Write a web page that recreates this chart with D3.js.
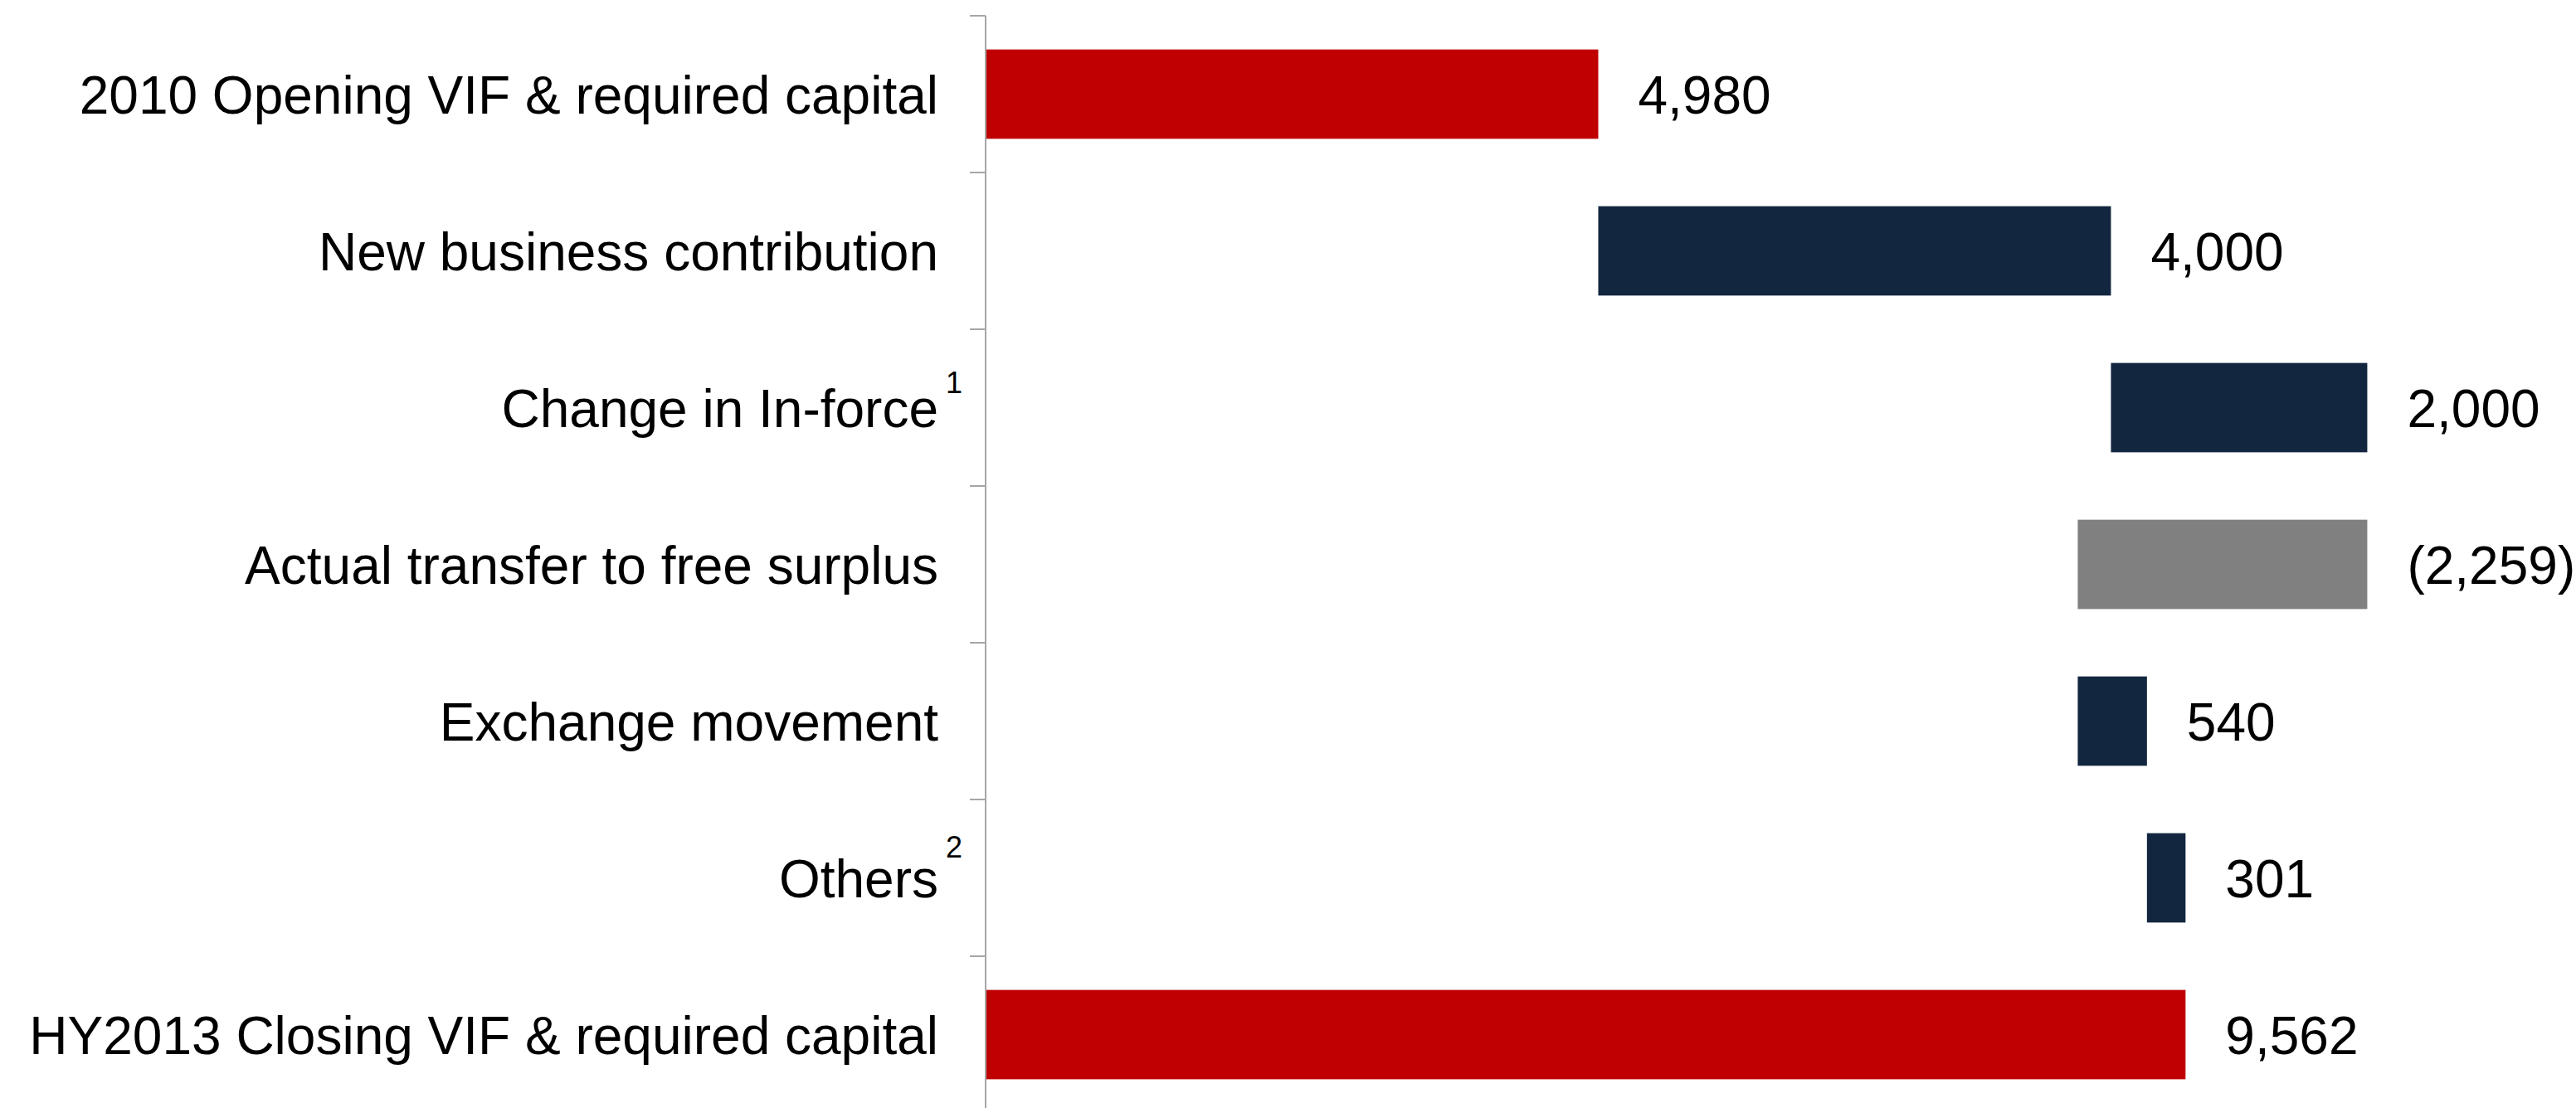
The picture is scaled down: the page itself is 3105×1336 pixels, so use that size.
<!DOCTYPE html>
<html>
<head>
<meta charset="utf-8">
<script src="https://cdn.jsdelivr.net/npm/d3@7"></script>
<style>
  html, body { margin: 0; padding: 0; background: #ffffff; }
  svg { display: block; }
  text { font-family: "Liberation Sans", Arial, sans-serif; fill: #000; }
</style>
</head>
<body>
<script>
// ---- data ----
const categories = [
  "2010 Opening VIF & required capital",
  "New business contribution",
  "Change in In-force",
  "Actual transfer to free surplus",
  "Exchange movement",
  "Others",
  "HY2013 Closing VIF & required capital"
];
const footnotes = ["", "", "1", "", "", "2", ""];
const values = [4980, 4000, 2000, -2259, 540, 301, 9562];
const kinds = ["total", "up", "up", "down", "up", "up", "total"];
const valueLabels = ["4,980", "4,000", "2,000", "(2,259)", "540", "301", "9,562"];
const axisDomain = [200, 12000];

// ---- layout ----
const W = 3105, H = 1336;
const colors = { total: "#C00000", up: "#13263F", down: "#808080" };
const superRaise = { "1": 18, "2": 25 };

const svg = d3.select("body").append("svg").attr("width", W).attr("height", H);

const x = d3.scaleLinear().domain(axisDomain).range([1188, 3011]).clamp(true);
const y = d3.scaleBand().domain(categories).range([19, 1342]).paddingInner(0.43).paddingOuter(0.215);

// compute waterfall start/end
let run = 0;
const rows = categories.map((c, i) => {
  let start, end;
  if (kinds[i] === "total") { start = 0; end = values[i]; run = values[i]; }
  else { start = run; end = run + values[i]; run = end; }
  return { cat: c, start, end, kind: kinds[i], label: valueLabels[i], fn: footnotes[i] };
});

// bars
svg.append("g").selectAll("rect").data(rows).join("rect")
  .attr("x", d => x(Math.min(d.start, d.end)))
  .attr("y", d => y(d.cat))
  .attr("width", d => x(Math.max(d.start, d.end)) - x(Math.min(d.start, d.end)))
  .attr("height", y.bandwidth())
  .attr("fill", d => colors[d.kind]);

// value labels
svg.append("g").selectAll("text").data(rows).join("text")
  .attr("x", d => x(Math.max(d.start, d.end)) + 48)
  .attr("y", d => y(d.cat) + y.bandwidth() / 2 + 23)
  .attr("font-size", 64)
  .text(d => d.label);

// axis
const step = y.step();
const gap = step - y.bandwidth();
const boundaries = categories.map(c => y(c) - gap / 2).concat([y(categories[categories.length - 1]) + y.bandwidth() + gap / 2]);
const ax = svg.append("g").attr("stroke", "#A6A6A6").attr("stroke-width", 2);
ax.append("line").attr("x1", x.range()[0]).attr("x2", x.range()[0]).attr("y1", boundaries[0]).attr("y2", H);
ax.selectAll("line.tick").data(boundaries).join("line").attr("class", "tick")
  .attr("x1", x.range()[0] - 19).attr("x2", x.range()[0])
  .attr("y1", d => d).attr("y2", d => d);

// category labels
const lab = svg.append("g");
rows.forEach(d => {
  const cy = y(d.cat) + y.bandwidth() / 2;
  lab.append("text").attr("x", 1131).attr("y", cy + 23)
    .attr("text-anchor", "end").attr("font-size", 64).text(d.cat);
  if (d.fn) {
    lab.append("text").attr("x", 1140).attr("y", cy - (superRaise[d.fn] || 20))
      .attr("font-size", 36).text(d.fn);
  }
});
</script>
</body>
</html>
